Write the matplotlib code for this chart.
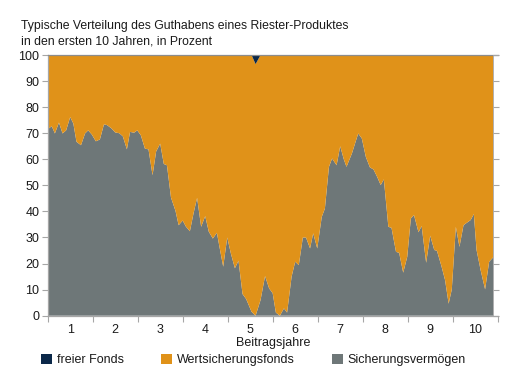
import matplotlib
matplotlib.use("Agg")
import matplotlib.pyplot as plt
from matplotlib.patches import Patch
import numpy as np

plt.rcParams['font.family'] = ['Liberation Sans', 'DejaVu Sans']

title_lines = ["Typische Verteilung des Guthabens eines Riester-Produktes",
               "in den ersten 10 Jahren, in Prozent"]
x_label = "Beitragsjahre"
year_labels = ["1", "2", "3", "4", "5", "6", "7", "8", "9", "10"]
series_names = ["freier Fonds", "Wertsicherungsfonds", "Sicherungsvermögen"]

years = [0.00, 0.09, 0.16, 0.25, 0.33, 0.41, 0.50, 0.57, 0.64, 0.74, 0.83, 0.90, 0.98,
         1.07, 1.16, 1.25, 1.32, 1.42, 1.50, 1.59, 1.67, 1.76, 1.83, 1.92, 1.99,
         2.07, 2.16, 2.24, 2.33, 2.41, 2.50, 2.58, 2.65, 2.74, 2.84, 2.91, 3.00,
         3.07, 3.16, 3.24, 3.32, 3.41, 3.50, 3.58, 3.67, 3.76, 3.83, 3.90, 3.99,
         4.07, 4.16, 4.24, 4.33, 4.41, 4.53, 4.62, 4.73, 4.83, 4.92, 5.00,
         5.07, 5.16, 5.25, 5.32, 5.42, 5.50, 5.58, 5.67, 5.74, 5.83, 5.90, 5.99,
         6.09, 6.16, 6.25, 6.32, 6.42, 6.50, 6.58, 6.64, 6.76, 6.90, 6.98,
         7.07, 7.16, 7.24, 7.32, 7.40, 7.47, 7.57, 7.64, 7.74, 7.81, 7.90, 7.99,
         8.07, 8.14, 8.24, 8.31, 8.41, 8.50, 8.59, 8.65, 8.75, 8.83, 8.91, 8.98,
         9.07, 9.15, 9.24, 9.31, 9.40, 9.47, 9.53, 9.62, 9.72, 9.81, 9.90]

sicherung = [71.5, 72.7, 69.9, 74.1, 69.9, 71.1, 76.2, 73.7, 66.7, 65.4, 69.9, 71.1, 69.5,
             66.9, 67.6, 73.4, 73.1, 71.8, 70.3, 70.0, 68.8, 63.8, 70.5, 70.2, 71.1,
             69.2, 64.1, 63.8, 53.9, 63.0, 66.0, 58.2, 57.7, 45.3, 40.2, 34.7, 36.5,
             34.2, 32.4, 39.2, 45.2, 34.1, 38.2, 32.2, 29.6, 31.8, 25.2, 18.8, 30.0,
             23.9, 18.2, 21.1, 8.3, 6.4, 1.5, 0.0, 6.0, 15.2, 10.5, 8.6,
             1.2, 0.0, 2.8, 1.2, 15.0, 20.7, 19.4, 30.0, 30.0, 25.8, 31.6, 25.8,
             37.9, 41.1, 57.1, 60.3, 57.7, 65.0, 60.0, 57.1, 62.2, 69.9, 68.0,
             60.9, 56.9, 56.1, 53.3, 50.1, 52.3, 34.1, 33.7, 24.5, 24.1, 16.5, 22.6,
             37.3, 38.6, 32.0, 34.4, 20.3, 30.7, 25.2, 24.9, 19.0, 13.7, 4.6, 10.1,
             34.1, 26.4, 34.7, 35.6, 36.7, 39.0, 25.2, 17.5, 10.1, 20.7, 22.4]

freier = [0.0] * len(years)
freier[years.index(4.62)] = 3.5

x = np.array(years)
g = np.array(sicherung)
f = np.array(freier)
w = 100.0 - g - f

c_navy = "#0B2849"
c_orange = "#E09219"
c_gray = "#6E7778"
c_axis = "#A6A6A6"
c_text = "#1A1A1A"

fig = plt.figure(figsize=(5.18, 3.85), dpi=100)
ax = fig.add_axes([47.7 / 518, 1 - 315.7 / 385, 450 / 518, (315.7 - 55) / 385])

ax.stackplot(x, g, w, f, colors=[c_gray, c_orange, c_navy], linewidth=0)

ax.set_xlim(0, 10)
ax.set_ylim(0, 100)

ax.set_xticks(np.arange(0, 11, 1))
ax.set_xticklabels([])
ax.set_xticks(np.arange(0.5, 10, 1), minor=True)
ax.set_xticklabels(year_labels, minor=True)
ax.tick_params(axis='x', which='major', direction='out', length=4, color=c_axis, width=0.8)
ax.tick_params(axis='x', which='minor', length=0, pad=6, labelsize=9, labelcolor=c_text)

ax.set_yticks(np.arange(0, 101, 10))
ax.tick_params(axis='y', direction='out', length=4, color=c_axis, width=0.8,
               labelsize=9, labelcolor=c_text, pad=2)

for s in ['left', 'bottom', 'top']:
    ax.spines[s].set_color(c_axis)
    ax.spines[s].set_linewidth(0.9)
ax.spines['top'].set_color("#8C8C8C")
ax.spines['right'].set_visible(False)

ax2 = ax.twinx()
ax2.set_ylim(0, 100)
ax2.set_yticks(np.arange(0, 101, 10))
ax2.set_yticklabels([])
ax2.spines['right'].set_position(('data', x[-1]))
ax2.spines['right'].set_color(c_axis)
ax2.spines['right'].set_linewidth(0.6)
for s in ['left', 'bottom', 'top']:
    ax2.spines[s].set_visible(False)
ax2.tick_params(axis='y', direction='out', length=4, color=c_axis, width=0.8)

ax.set_xlabel(x_label, fontsize=9, color=c_text, labelpad=1)

fig.text(21 / 518, 1 - 29 / 385, title_lines[0], fontsize=8.85, color=c_text, va='baseline')
fig.text(21 / 518, 1 - 44 / 385, title_lines[1], fontsize=8.85, color=c_text, va='baseline')

handles = [Patch(facecolor=c, edgecolor='none') for c in [c_navy, c_orange, c_gray]]
fig.legend(handles, series_names, loc='center left', bbox_to_anchor=(36 / 518, 1 - 360 / 385),
           ncol=3, frameon=False, fontsize=9, handlelength=0.85, handleheight=0.85,
           handletextpad=0.4, columnspacing=3.0, borderaxespad=0, labelcolor=c_text)

fig.savefig("out.png", dpi=100)
